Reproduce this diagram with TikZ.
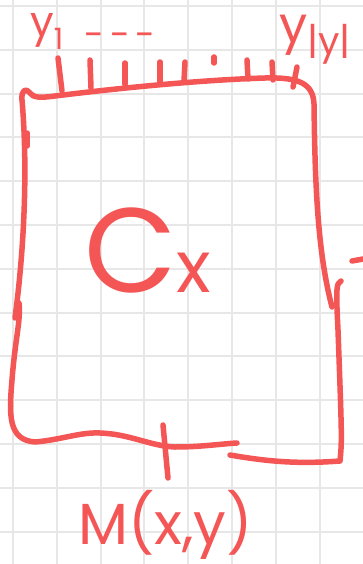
\documentclass[tikz,border=0pt]{standalone}
\usepackage{fontspec}
\setmainfont{Poppins}
\usetikzlibrary{positioning}
\definecolor{ink}{HTML}{F45656}
\definecolor{gridc}{HTML}{E7E7E7}
\tikzset{
  pen/.style={draw=ink, line width=5.5pt, line cap=round, line join=round},
  paper/.style={draw=gridc, line width=2pt},
  lbl/.style={text=ink, inner sep=0pt},
}

\begin{document}
\begin{tikzpicture}[x=1pt,y=-1pt]
  \useasboundingbox[fill=white] (0,0) rectangle (363,564);
  % paper grid
  \foreach \i in {0,...,7} \draw[paper] (13+43.8*\i,0) -- (13+43.8*\i,564);
  \foreach \j in {0,...,12} \draw[paper] (0,6+43.8*\j) -- (363,6+43.8*\j);
  % box: left + top + right upper
  \draw[pen] (15,318) .. controls (24,250) and (28,170) .. (22,100) .. controls (21,90) and (26,88) .. (29,92)
    .. controls (33,98) and (40,98) .. (55,96) .. controls (120,88) and (200,80) .. (265,78)
    .. controls (300,77) and (313,84) .. (314,104) .. controls (315,180) and (317,250) .. (332,307);
  \draw[pen] (27,133) -- (27,146);
  % box: left lower + bottom
  \draw[pen] (19,303) .. controls (21,320) and (15,340) .. (12,380) .. controls (9,415) and (8,440) .. (35,442)
    .. controls (60,440) and (80,432) .. (100,433) .. controls (130,434) and (150,446) .. (175,447)
    .. controls (200,447) and (220,444) .. (237,443);
  % box: bottom right + right lower
  \draw[pen] (230,455) .. controls (270,462) and (300,464) .. (340,461) .. controls (342,440) .. (338,330)
    .. controls (336,290) and (336,283) .. (341,281);
  % ticks
  \foreach \x/\a/\b/\d in {58/58/91/4, 90/60/88/1, 125/63/84/0, 160/62/82/0, 185/62/81/-1,
      214/57/63/0, 247/60/79/1, 272/62/80/1, 297/67/87/-4}
    \draw[pen] (\x,\a) -- (\x+\d,\b);
  \draw[pen] (163,425) -- (168,478);
  \draw[pen] (352,261) -- (363,259);
  % labels
  \node[lbl,anchor=base west,font=\fontsize{42}{42}\selectfont] (y1) at (30,37) {y\textsubscript{1}};
  \node[lbl,anchor=base west,font=\fontsize{36}{36}\selectfont] (dots) at (84,48) {-\,-\,-};
  \node[lbl,anchor=base west,font=\fontsize{50}{50}\selectfont] (yn) at (279,43) {y\raisebox{-12pt}{\fontsize{38}{38}\selectfont|y|}};
  \node[lbl,anchor=base west] (cx) at (84,292) {\fontsize{120}{120}\selectfont C\fontsize{72}{72}\selectfont x};
  \node[lbl,anchor=base west,font=\fontsize{58}{58}\selectfont] (m) at (78,544) {M(x,y)};
\end{tikzpicture}
\end{document}
